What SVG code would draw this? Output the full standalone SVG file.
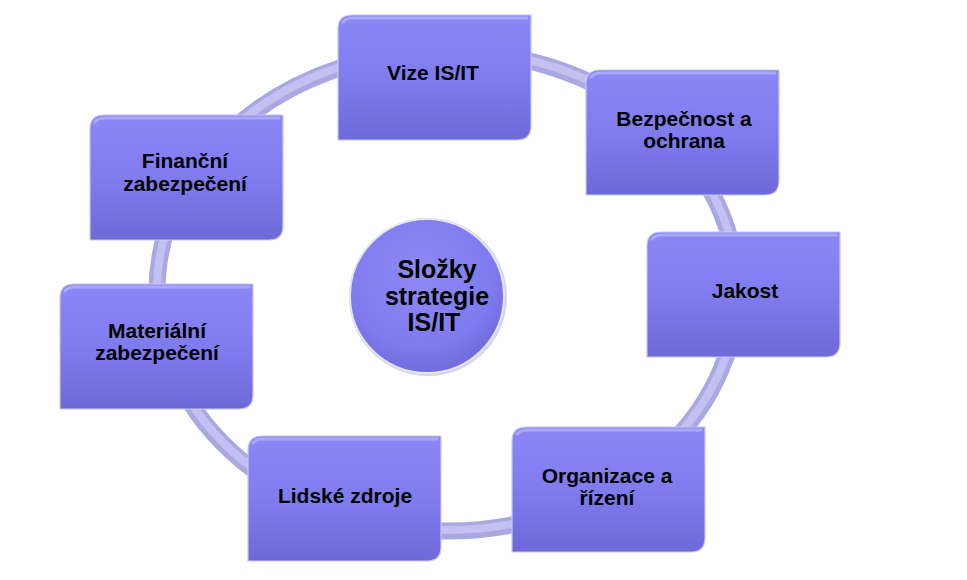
<svg xmlns="http://www.w3.org/2000/svg" width="967" height="580" viewBox="0 0 967 580">
<defs>
<linearGradient id="boxg" x1="0" y1="0" x2="0" y2="1">
<stop offset="0" stop-color="#8b87f7"/>
<stop offset="0.5" stop-color="#807cf0"/>
<stop offset="1" stop-color="#6d69d8"/>
</linearGradient>
<radialGradient id="circg" cx="0.45" cy="0.35" r="0.7">
<stop offset="0" stop-color="#8e8af7"/>
<stop offset="0.7" stop-color="#7e7aee"/>
<stop offset="1" stop-color="#6b67d6"/>
</radialGradient>
<path id="box" d="M14,0 H193 V111 Q193,125 179,125 H0 V14 Q0,0 14,0 Z"/>
<path id="hl" d="M5,7 Q8,3 15,3 H189" />
</defs>
<style>
.bx{fill:url(#boxg);stroke:#c9c7ee;stroke-width:1.2}
.hl{fill:none;stroke:#b3b0fa;stroke-width:3;stroke-linecap:round;opacity:0.8}
.t{font-family:"Liberation Sans",Arial,sans-serif;font-weight:bold;font-size:21px;fill:#000;text-anchor:middle}
.tc{font-family:"Liberation Sans",Arial,sans-serif;font-weight:bold;font-size:25px;fill:#000;text-anchor:middle}
</style>
<rect width="967" height="580" fill="#ffffff"/>
<g id="connectors">
<ellipse cx="447" cy="291" rx="290" ry="240" fill="none" stroke="#aaa8e0" stroke-width="17"/>
<ellipse cx="447" cy="290" rx="290" ry="240" fill="none" stroke="#c3c1f2" stroke-width="8"/>
</g>
<g id="center">
<circle cx="428" cy="297" r="79" fill="#d6d6e8"/>
<circle cx="427" cy="296" r="77" fill="url(#circg)" stroke="#e4e4f4" stroke-width="2"/>
<text class="tc" x="437" y="278">Složky</text>
<text class="tc" x="437" y="305">strategie</text>
<text class="tc" x="434" y="331">IS/IT</text>
</g>
<g id="vize" transform="translate(338,15)">
<use href="#box" class="bx"/><use href="#hl" class="hl"/>
<text class="t" x="95" y="65">Vize IS/IT</text>
</g>
<g id="bezpecnost" transform="translate(586,70)">
<use href="#box" class="bx"/><use href="#hl" class="hl"/>
<text class="t" x="98" y="56">Bezpečnost a</text>
<text class="t" x="98" y="78">ochrana</text>
</g>
<g id="jakost" transform="translate(647,232)">
<use href="#box" class="bx"/><use href="#hl" class="hl"/>
<text class="t" x="98" y="66">Jakost</text>
</g>
<g id="organizace" transform="translate(512,427)">
<use href="#box" class="bx"/><use href="#hl" class="hl"/>
<text class="t" x="95" y="56">Organizace a</text>
<text class="t" x="95" y="78">řízení</text>
</g>
<g id="lidske" transform="translate(248,436)">
<use href="#box" class="bx"/><use href="#hl" class="hl"/>
<text class="t" x="97" y="67">Lidské zdroje</text>
</g>
<g id="materialni" transform="translate(60,284)">
<use href="#box" class="bx"/><use href="#hl" class="hl"/>
<text class="t" x="97" y="54">Materiální</text>
<text class="t" x="97" y="76">zabezpečení</text>
</g>
<g id="financni" transform="translate(90,115)">
<use href="#box" class="bx"/><use href="#hl" class="hl"/>
<text class="t" x="95" y="53">Finanční</text>
<text class="t" x="95" y="76">zabezpečení</text>
</g>
</svg>
